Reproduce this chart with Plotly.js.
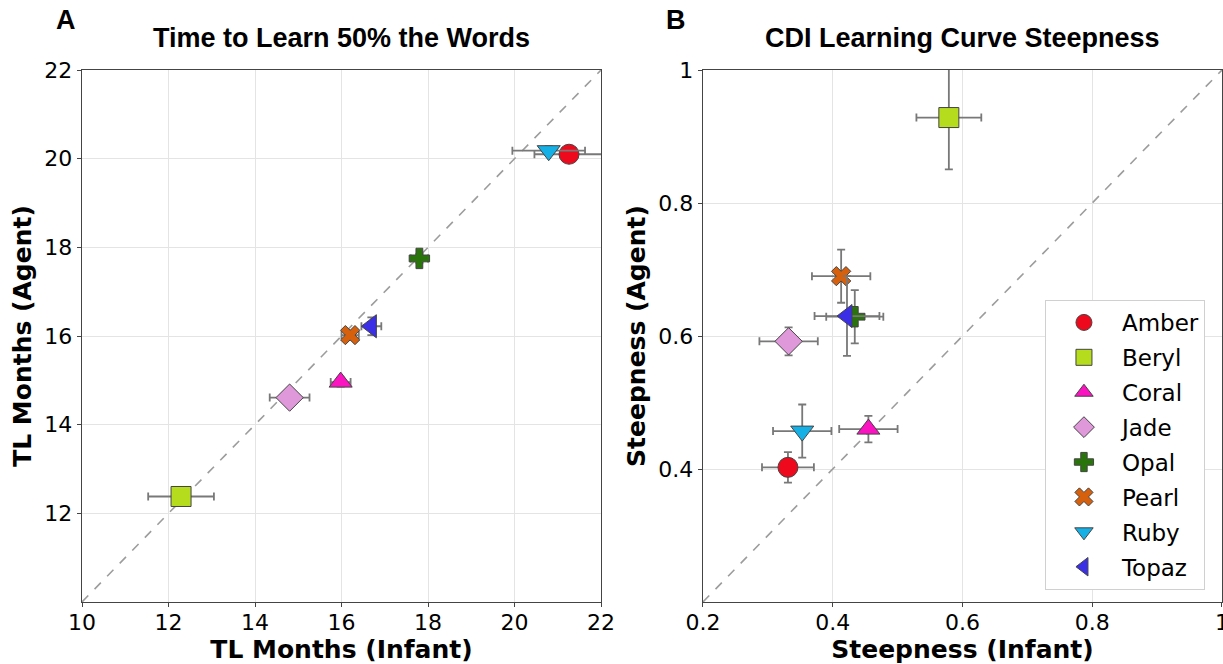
<!DOCTYPE html>
<html><head><meta charset="utf-8">
<script src="https://cdn.plot.ly/plotly-3.0.1.min.js"></script>
<style>html,body{margin:0;padding:0;background:#fff}</style>
</head><body><div id="chart" style="width:1223px;height:664px"></div>
<script>
const names = ["Amber","Beryl","Coral","Jade","Opal","Pearl","Ruby","Topaz"];
const colors = ["#ee0a1c","#b6dc1e","#fb12c0","#df98da","#2a740c","#d7600c","#15b1e6","#3a2ee6"];
const symbols = ["circle","square","triangle-up","diamond","cross","x","triangle-down","triangle-left"];
const sizes = [20,20,20,21,17,17,20,20];

const tlInfant    = [21.26,12.29,15.98,14.80,17.80,16.20,20.79,16.69];
const tlInfantErr = [0.80,0.76,0.23,0.46,0.20,0.20,0.84,0.23];
const tlAgent     = [20.10,12.38,14.96,14.61,17.75,16.02,20.18,16.22];
const tlAgentErr  = [0.10,0.10,0.10,0.10,0.10,0.10,0.10,0.20];

const stInfant    = [0.331,0.579,0.455,0.332,0.434,0.413,0.353,0.422];
const stInfantErr = [0.040,0.050,0.045,0.045,0.044,0.045,0.045,0.050];
const stAgent     = [0.4025,0.9285,0.460,0.592,0.629,0.690,0.457,0.630];
const stAgentErr  = [0.023,0.078,0.020,0.021,0.040,0.040,0.040,0.060];

const tlRange = [10,22];
const stRange = [0.2,1];
const tlXTicks = [10,12,14,16,18,20,22];
const tlYTicks = [12,14,16,18,20,22];
const stXTicks = [0.2,0.4,0.6,0.8,1];
const stXLabels = ["0.2","0.4","0.6","0.8","1"];
const stYTicks = [0.4,0.6,0.8,1];
const stYLabels = ["0.4","0.6","0.8","1"];

const errStyle = {type:'data', color:'#787878', thickness:1.8, width:4, visible:true};
const traces = [];
traces.push({x:tlRange, y:tlRange, xaxis:'x', yaxis:'y', mode:'lines', showlegend:false, hoverinfo:'skip',
  line:{color:'#9c9c9c', dash:'dash', width:1.6}});
traces.push({x:stRange, y:stRange, xaxis:'x2', yaxis:'y2', mode:'lines', showlegend:false, hoverinfo:'skip',
  line:{color:'#9c9c9c', dash:'dash', width:1.6}});
names.forEach((n,i)=>{
  const marker = {symbol:symbols[i], size:sizes[i], color:colors[i], line:{color:'#444', width:1}};
  traces.push({name:n, legendgroup:n, showlegend:false, x:[tlInfant[i]], y:[tlAgent[i]], xaxis:'x', yaxis:'y',
    mode:'markers', marker:marker,
    error_x:Object.assign({array:[tlInfantErr[i]]}, errStyle),
    error_y:Object.assign({array:[tlAgentErr[i]]}, errStyle)});
  traces.push({name:n, legendgroup:n, showlegend:true, x:[stInfant[i]], y:[stAgent[i]], xaxis:'x2', yaxis:'y2',
    mode:'markers', marker:marker,
    error_x:Object.assign({array:[stInfantErr[i]]}, errStyle),
    error_y:Object.assign({array:[stAgentErr[i]]}, errStyle)});
});

const axBase = {showline:true, mirror:true, linecolor:'#444', linewidth:1.3, ticks:'outside', ticklen:4,
  tickcolor:'#444', showgrid:true, gridcolor:'#e4e4e4', gridwidth:1, zeroline:false,
  tickfont:{family:'DejaVu Sans', size:22, color:'#000'}};
const titleFont = {family:'DejaVu Sans', size:25, color:'#000', weight:'bold'};

const layout = {
  width:1223, height:664, paper_bgcolor:'#fff', plot_bgcolor:'#fff',
  margin:{l:82, r:1, t:70, b:62},
  showlegend:true,
  xaxis:Object.assign({}, axBase, {domain:[0,0.4553], range:tlRange, tickvals:tlXTicks, anchor:'y',
    ticklabelstandoff:-4,
    title:{text:'TL Months (Infant)', font:titleFont, standoff:5}}),
  yaxis:Object.assign({}, axBase, {domain:[0,1], range:tlRange, tickvals:tlYTicks, anchor:'x',
    title:{text:'TL Months (Agent)', font:titleFont, standoff:5}}),
  xaxis2:Object.assign({}, axBase, {domain:[0.5447,1], range:stRange, tickvals:stXTicks, ticktext:stXLabels, anchor:'y2',
    ticklabeloverflow:'allow', ticklabelstandoff:-4,
    title:{text:'Steepness (Infant)', font:titleFont, standoff:5}}),
  yaxis2:Object.assign({}, axBase, {domain:[0,1], range:stRange, tickvals:stYTicks, ticktext:stYLabels, anchor:'x2',
    title:{text:'Steepness (Agent)', font:titleFont, standoff:5}}),
  legend:{x:0.8447, y:0.0226, xanchor:'left', yanchor:'bottom', bgcolor:'#fff', bordercolor:'#d0d0d0', borderwidth:1,
    font:{family:'DejaVu Sans', size:23, color:'#000'}, tracegroupgap:2, itemwidth:66},
  annotations:[
    {text:'Time to Learn 50% the Words', xref:'paper', yref:'paper', x:0.2272, y:1.060, xanchor:'center', yanchor:'middle',
     showarrow:false, font:{family:'Liberation Sans', size:27, color:'#000', weight:'bold'}},
    {text:'CDI Learning Curve Steepness', xref:'paper', yref:'paper', x:0.7728, y:1.060, xanchor:'center', yanchor:'middle',
     showarrow:false, font:{family:'Liberation Sans', size:27, color:'#000', weight:'bold'}},
    {text:'A', xref:'paper', yref:'paper', x:-0.014, y:1.094, xanchor:'center', yanchor:'middle',
     showarrow:false, font:{family:'Liberation Sans', size:27, color:'#000', weight:'bold'}},
    {text:'B', xref:'paper', yref:'paper', x:0.521, y:1.094, xanchor:'center', yanchor:'middle',
     showarrow:false, font:{family:'Liberation Sans', size:27, color:'#000', weight:'bold'}}
  ]
};
Plotly.newPlot('chart', traces, layout, {displayModeBar:false, staticPlot:true});
</script></body></html>
